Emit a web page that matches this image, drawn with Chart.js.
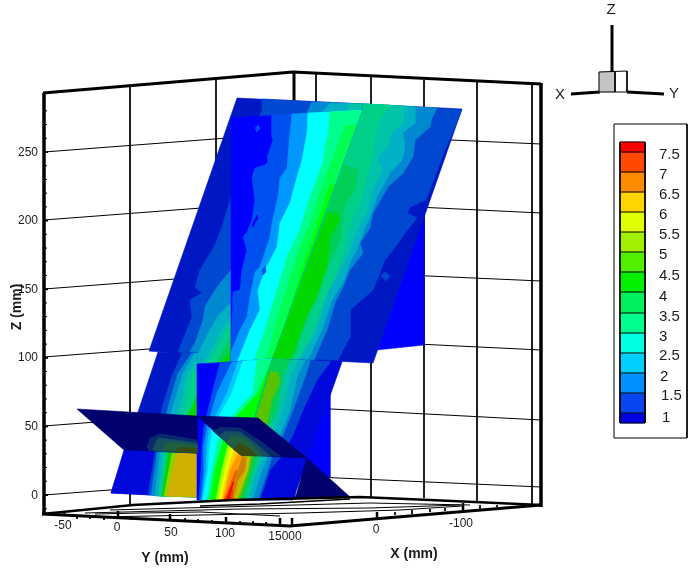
<!DOCTYPE html>
<html>
<head>
<meta charset="utf-8">
<title>Contour planes</title>
<script src="https://cdn.jsdelivr.net/npm/chart.js@4/dist/chart.umd.min.js"></script>
<style>
  html, body { margin: 0; padding: 0; background: #fff; }
  canvas { display: block; }
</style>
</head>
<body>
<canvas id="plot" width="696" height="577"></canvas>
<script>
// tick labels
const zTickLabels = ['0', '50', '100', '150', '200', '250'];
const yTickLabels = ['-50', '0', '50', '100', '15000'];
const xTickLabels = ['0', '-100'];
const legendLabels = ['7.5', '7', '6.5', '6', '5.5', '5', '4.5', '4', '3.5', '3', '2.5', '2', '1.5', '1'];

// colour of each contour level, lowest first
const legendColors = ['#0000e0', '#0a46f0', '#0090ff', '#00d0ff', '#00ffe0', '#00ff90', '#00f060', '#00f000',
  '#50f000', '#a0f000', '#e0ff00', '#ffd400', '#ff8c00', '#ff4800', '#ff0000'];
const brightColors = ['#0000ff', '#0050f0', '#0098ff', '#00ccff', '#00ffff', '#00ff90', '#00ff50', '#00ff00',
  '#70ff00', '#b0ff00', '#e8ff00', '#ffd000', '#ff9800', '#ff5000', '#ff0000'];
const shadedColors = ['#0018c4', '#0048d0', '#0088d0', '#00b0c4', '#00c4a8', '#00d088', '#00d058', '#00d800',
  '#58c400', '#90d000', '#b8c800', '#d0b000', '#d08000', '#e04000', '#e81000', '#0008dc'];
const darkColors = ['#00006e', '#0a2a70', '#155060', '#1f6040', '#3a4a10'];

// upper sloped plane, part left of the crossing with the vertical plane
const slopeUpperLeft = [
  [0, [[237,98],[363,104],[363,120],[280,366],[197,366],[197,355],[149,351]]],
  [1, [[262,99],[363,104],[363,120],[280,366],[197,366],[197,355],[178,352],[192,317],[190,300],[202,293],[195,287],[200,270],[215,245],[222,227],[231,197],[262,110]]],
  [2, [[312,102],[363,104],[363,120],[280,366],[197,366],[197,355],[188,354],[195,343],[203,320],[205,307],[213,293],[220,283],[231,270]]],
  [3, [[330,103],[363,104],[363,120],[280,366],[197,366],[197,355],[210,330],[217,317],[231,303],[250,200]]],
  [4, [[350,104],[363,104],[363,120],[280,366],[203,366],[220,333],[231,317],[250,240]]],
  [5, [[240,300],[280,366],[207,366],[231,323]]],
  [6, [[235,340],[260,366],[214,366],[231,338]]],
  [7, [[231,350],[240,366],[219,366]]]
];

// lower sloped plane, part left of x = 197
const slopeLowerLeft = [
  [0, [[158,352],[197,354],[197,497],[111,493]]],
  [15, [[124,450],[155,451],[150,495],[111,493]]],
  [1, [[183,352],[197,352],[197,497],[148,495],[155,453],[160,420],[162,407],[173,373]]],
  [2, [[192,353],[197,353],[197,497],[151,495],[157,453],[168,407],[178,373]]],
  [3, [[195,353],[197,353],[197,497],[155,496],[160,453],[173,407],[183,373]]],
  [4, [[197,360],[197,497],[158,496],[163,453],[180,407],[188,373]]],
  [5, [[197,370],[197,497],[160,496],[166,453],[185,407],[193,373]]],
  [7, [[197,395],[197,497],[162,496],[168,453],[172,440],[192,407]]],
  [9, [[197,453],[197,497],[164,496],[172,453]]],
  [11, [[197,453],[197,497],[167,496],[177,453]]]
];

// vertical plane above the horizontal cut
const verticalUpper = [
  [0, [[231,118],[363,110],[273,370],[231,362]]],
  [1, [[272,115],[272,137],[273,140],[268,155],[268,162],[265,165],[255,168],[252,178],[255,200],[252,220],[247,232],[243,237],[247,250],[242,270],[240,290],[233,292],[232,323],[231,355],[231,362],[273,362],[363,110]]],
  [2, [[292,114],[290,133],[287,168],[280,178],[278,197],[272,223],[270,237],[260,267],[255,272],[250,297],[247,317],[240,330],[233,347],[231,353],[231,362],[273,362],[363,110]]],
  [4, [[308,113],[307,133],[302,160],[297,177],[290,203],[280,223],[277,247],[265,270],[258,290],[260,310],[250,330],[240,355],[237,362],[273,362],[363,110]]],
  [5, [[330,112],[328,133],[325,147],[323,163],[317,178],[308,203],[300,230],[287,257],[278,287],[272,307],[265,330],[257,353],[254,362],[276,362],[363,110]]],
  [6, [[345,125],[337,147],[327,173],[320,193],[310,223],[300,247],[290,277],[280,310],[273,333],[266,362],[276,362],[358,125]]],
  [7, [[330,185],[322,210],[312,240],[303,265],[293,300],[284,330],[277,362],[276,362],[337,185]]]
];

// vertical plane below the step at y = 363
const verticalLower = [
  [0, [[197,364],[231,362],[285,358],[240,500],[197,500]]],
  [1, [[220,363],[212,393],[204,427],[202,445],[201,470],[199,500],[240,500],[285,358]]],
  [2, [[232,362],[217,393],[207,427],[204,445],[204,470],[201,500],[240,500],[285,358]]],
  [3, [[238,362],[227,393],[210,427],[207,445],[206,470],[202,500],[240,500],[285,358]]],
  [4, [[243,361],[232,393],[213,427],[210,445],[208,470],[203,500],[240,500],[285,358]]],
  [5, [[257,360],[253,393],[222,427],[217,445],[212,470],[207,500],[240,500],[285,358]]],
  [7, [[272,359],[258,393],[227,427],[222,445],[215,470],[210,500],[240,500],[285,358]]],
  [9, [[240,427],[228,445],[222,470],[216,500],[240,500],[260,427]]],
  [10, [[232,445],[225,470],[219,500],[240,500],[250,445]]],
  [11, [[235,445],[228,470],[221,500],[240,500],[250,445]]],
  [12, [[240,450],[230,470],[223,500],[240,500],[250,450]]],
  [13, [[236,470],[224,500],[240,500],[245,470]]],
  [14, [[233,482],[226,500],[240,500],[240,482]]]
];

// lower sloped plane, right of the crossing
const slopeLowerRight = [
  [15, [[274,355],[340,355],[342,362],[293,500],[230,500]]],
  [1, [[335,356],[317,380],[303,410],[293,435],[281,457],[270,470],[260,500],[230,500],[274,355]]],
  [2, [[312,356],[305,377],[293,410],[283,435],[272,457],[268,470],[258,500],[230,500],[274,355]]],
  [3, [[307,356],[297,377],[290,410],[280,435],[268,457],[262,470],[252,500],[230,500],[274,355]]],
  [4, [[300,356],[290,377],[283,410],[273,435],[264,457],[257,470],[248,500],[230,500],[274,355]]],
  [6, [[292,356],[283,377],[277,410],[265,435],[258,457],[254,470],[245,500],[230,500],[274,355]]],
  [8, [[278,372],[280,382],[272,400],[268,420],[260,445],[252,458],[250,470],[240,500],[230,500],[270,372]]],
  [10, [[250,457],[248,470],[237,500],[230,500],[242,457]]],
  [11, [[248,457],[246,470],[235,500],[230,500],[242,457]]],
  [12, [[246,457],[245,470],[238,480],[233,500],[230,500],[242,457]]],
  [13, [[233,486],[232,500],[230,500],[233,486]]]
];

// upper sloped plane, right of the crossing
const slopeUpperRight = [
  [0, [[363,104],[462,109],[373,363],[273,358],[363,110]]],
  [1, [[462,110],[445,150],[426,200],[410,207],[407,213],[417,218],[405,233],[397,245],[385,260],[382,267],[373,290],[350,310],[350,337],[338,360],[273,358],[363,110],[363,104]]],
  [2, [[437,108],[432,118],[430,127],[415,140],[413,157],[403,173],[388,187],[373,213],[370,228],[360,243],[363,253],[350,270],[343,287],[335,303],[327,330],[314,360],[273,358],[363,110],[363,104]]],
  [3, [[415,107],[415,123],[403,133],[405,147],[402,160],[390,173],[377,197],[370,217],[363,233],[358,247],[350,263],[343,283],[332,300],[322,330],[308,359],[273,358],[363,110],[363,104]]],
  [4, [[405,106],[403,123],[390,135],[388,147],[377,157],[382,170],[372,190],[367,213],[357,230],[347,257],[337,277],[327,293],[317,330],[300,359],[273,358],[363,110],[363,104]]],
  [5, [[390,105],[380,120],[375,133],[372,157],[368,170],[362,197],[348,230],[342,257],[332,283],[322,305],[313,330],[298,359],[273,358],[363,110],[363,104]]],
  [6, [[345,165],[358,170],[355,190],[345,205],[340,240],[330,262],[320,283],[312,305],[303,330],[293,358],[273,358],[344,165]]],
  [7, [[327,213],[337,213],[340,220],[330,237],[327,267],[317,297],[305,320],[295,350],[290,359],[273,358]]]
];

// small islands inside the bands
const islandsShaded = [
  [1, [[381,276],[385,272],[390,276],[386,281]]]
];
const islandsBright = [
  [1, [[255,128],[258,125],[260,128],[257,132]]],
  [0, [[252,225],[257,215],[258,218],[253,227]]],
  [1, [[262,270],[265,266],[266,272],[263,275]]]
];

// horizontal cut, seen dark, with its dim blobs
const cutLeft = [
  [0, [[77,409],[197,416],[197,453],[124,450]]],
  [1, [[147,447],[150,438],[160,434],[175,436],[197,440],[197,453],[149,451]]],
  [2, [[153,449],[158,438],[175,440],[197,443],[197,453],[155,451]]],
  [3, [[163,450],[165,443],[178,443],[197,446],[197,453]]],
  [4, [[175,451],[180,447],[197,449],[197,453]]]
];
const cutRight = [
  [0, [[197,416],[258,418],[307,458],[241,455]]],
  [1, [[213,431],[221,427],[240,428],[262,442],[280,456],[241,455]]],
  [2, [[219,436],[226,431],[240,432],[258,445],[270,456],[241,455]]],
  [3, [[226,443],[232,436],[244,438],[256,448],[262,456],[241,455]]],
  [4, [[233,449],[240,443],[250,449],[256,456],[241,455]]]
];
const cutTail = [[307,458],[350,497],[295,499]];

// plain blue parts of the vertical plane seen behind the slope
const backUpper = [[380,200],[424,200],[424,345],[376,350]];
const backLower = [[290,380],[330,380],[330,477],[290,477]];

// wall grid: z value lines run from the left edge to the back corner to the right edge
const zTickValues = [0, 50, 100, 150, 200, 250];
const gridLeftEnd = [495, 426, 357, 289, 220, 152];
const gridBackEnd = [476, 407, 338, 270, 201, 133];
const gridRightEnd = [487, 420, 350, 281, 213, 144];
const gridVerticals = [[130,86,505],[216,79,499],[316,74,497],[371,77,497],[424,80,498],[477,82,502],[532,84,506]];

const floorLines = [
  [[110,510],[370,503],[470,505]],
  [[85,513],[240,509],[370,508],[460,505]],
  [[100,517],[300,513],[400,510],[462,506]],
  [[95,514],[140,513],[200,512],[280,516]]
];
const floorThick = [[200,506],[260,504],[350,499]];
const floorTicksMajor = [[64,512,516],[118,511,518],[170,514,520],[226,517,523],[280,518,525],[292,518,525],[377,512,518],[463,503,510]];
const floorTicksMinor = [[77,515,519],[90,517,519],[104,518,520],[131,516,520],[144,518,520],[158,519,521],[185,518,521],[198,519,522],[212,520,523],[240,521,523],[253,521,524],[266,522,525],[395,512,515],[412,510,514],[430,509,512],[445,508,511],[480,505,509],[497,505,507]];

const zMinorValues = [-10, 10, 20, 30, 40, 60, 70, 80, 90, 110, 120, 130, 140, 160, 170, 180, 190, 210, 220, 230, 240, 260, 270, 280];

const legendEdges = [142, 152, 172, 192, 212, 232, 252, 272, 292, 313, 333, 353, 373, 393, 413, 423];
const legendLabelY = [155, 175, 195, 215, 235, 255, 276, 297, 317, 337, 356, 377, 396, 418];
const legendLabelX = [659, 659, 659, 659, 659, 659, 659, 659, 659, 659, 659, 660, 661, 662];

const datasets = [];

function addShape(pts, color) {
  datasets.push({
    data: pts.map(p => ({ x: p[0], y: p[1] })).concat([{ x: pts[0][0], y: pts[0][1] }]),
    showLine: true,
    fill: 'shape',
    backgroundColor: color,
    borderColor: color,
    borderWidth: 0.6,
    pointRadius: 0,
    tension: 0
  });
}

function addBands(bands, colors) {
  bands.forEach(b => addShape(b[1], colors[b[0]]));
}

function addLine(pts, width, color) {
  datasets.push({
    data: pts.map(p => ({ x: p[0], y: p[1] })),
    showLine: true,
    fill: false,
    borderColor: color || '#000',
    borderWidth: width,
    pointRadius: 0,
    tension: 0
  });
}

// walls
zTickValues.forEach((z, i) => {
  addLine([[44, gridLeftEnd[i]], [293, gridBackEnd[i]], [541, gridRightEnd[i]]], 1);
});
gridVerticals.forEach(v => addLine([[v[0], v[1]], [v[0], v[2]]], 1));
addLine([[294, 72], [294, 498]], 3);

// planes, back to front
addShape(backUpper, brightColors[0]);
addShape(backLower, brightColors[0]);
addBands(slopeUpperLeft, shadedColors);
addBands(slopeLowerLeft, shadedColors);
addBands(verticalUpper, brightColors);
addBands(islandsBright, brightColors);
addBands(verticalLower, brightColors);
addBands(slopeLowerRight, shadedColors);
addBands(slopeUpperRight, shadedColors);
addBands(islandsShaded, shadedColors);
addShape(cutTail, darkColors[0]);
addBands(cutLeft, darkColors);
addBands(cutRight, darkColors);

// floor
floorLines.forEach(l => addLine(l, 1));
addLine(floorThick, 1.6);
addLine([[42, 514], [133, 505], [233, 500], [360, 497], [430, 500], [541, 505]], 2.5);
floorTicksMajor.forEach(t => addLine([[t[0], t[1]], [t[0], t[2]]], 2.5));
floorTicksMinor.forEach(t => addLine([[t[0], t[1]], [t[0], t[2]]], 1));

// box edges
addLine([[42, 514], [207, 522], [290, 526], [541, 505]], 3);
addLine([[44, 93], [44, 515]], 3.5);
addLine([[43, 93], [293, 72], [541, 84]], 3);
addLine([[541, 83], [541, 507]], 3.5);

// z ticks
zTickValues.forEach(z => addLine([[44, 495 - z * 1.372], [48, 495 - z * 1.372]], 2));
zMinorValues.forEach(z => addLine([[44, 495 - z * 1.372], [47, 495 - z * 1.372]], 1));

// orientation axes
addLine([[612, 25], [612, 72]], 3);
addLine([[571, 94], [600, 92]], 3);
addLine([[627, 92], [664, 94]], 3);
addShape([[599, 72], [615, 72], [615, 92], [599, 92]], '#c4c4c4');
addLine([[599, 92], [599, 72], [627, 71], [627, 92], [599, 92]], 1);
addLine([[615, 72], [615, 92]], 1);

// legend
addLine([[614, 124], [687, 124], [687, 438], [614, 438], [614, 124]], 1);
legendColors.forEach((c, i) => {
  const top = legendEdges[legendEdges.length - 2 - i];
  const bottom = legendEdges[legendEdges.length - 1 - i];
  addShape([[620, top], [645, top], [645, bottom], [620, bottom]], c);
});
legendEdges.forEach(e => addLine([[620, e], [645, e]], 1));
addLine([[620, 142], [620, 423]], 1);
addLine([[645, 142], [645, 423]], 1);

// chart.js paints the first dataset last, so set order to keep the list back to front
datasets.forEach((d, i) => { d.order = datasets.length - i; });

const textColor = '#1c1c1c';
const plainTexts = [];
zTickLabels.forEach((t, i) => plainTexts.push([t, 38, gridLeftEnd[i] + 0.5, '12px', 'right']));
yTickLabels.forEach((t, i) => plainTexts.push([t, [63, 117, 171, 225, 285][i], [526, 528, 533, 534, 537][i], '12px', 'center']));
xTickLabels.forEach((t, i) => plainTexts.push([t, [376, 461][i], [530, 524][i], '12px', 'center']));
legendLabels.forEach((t, i) => plainTexts.push([t, legendLabelX[i], legendLabelY[i], '15px', 'left']));
plainTexts.push(['Z', 611, 10, '15px', 'center']);
plainTexts.push(['X', 560, 95, '15px', 'center']);
plainTexts.push(['Y', 674, 94, '15px', 'center']);

const textPlugin = {
  id: 'plotText',
  afterDatasetsDraw(chart) {
    const c = chart.ctx;
    const sx = chart.scales.x;
    const sy = chart.scales.y;
    c.save();
    c.fillStyle = textColor;
    c.textBaseline = 'middle';
    plainTexts.forEach(t => {
      c.font = t[3] + ' "Liberation Sans"';
      c.textAlign = t[4];
      c.fillText(t[0], sx.getPixelForValue(t[1]), sy.getPixelForValue(t[2]));
    });
    c.font = 'bold 14px "Liberation Sans"';
    c.textAlign = 'center';
    c.fillText('Y (mm)', sx.getPixelForValue(165), sy.getPixelForValue(558));
    c.fillText('X (mm)', sx.getPixelForValue(414), sy.getPixelForValue(554));
    c.translate(sx.getPixelForValue(17), sy.getPixelForValue(307));
    c.rotate(-Math.PI / 2);
    c.fillText('Z (mm)', 0, 0);
    c.restore();
  }
};

new Chart(document.getElementById('plot').getContext('2d'), {
  type: 'scatter',
  data: { datasets: datasets },
  options: {
    responsive: false,
    animation: false,
    layout: { padding: 0 },
    plugins: { legend: { display: false }, tooltip: { enabled: false } },
    scales: {
      x: { type: 'linear', min: 0, max: 696, display: false },
      y: { type: 'linear', min: 0, max: 577, reverse: true, display: false }
    }
  },
  plugins: [textPlugin]
});
</script>
</body>
</html>
